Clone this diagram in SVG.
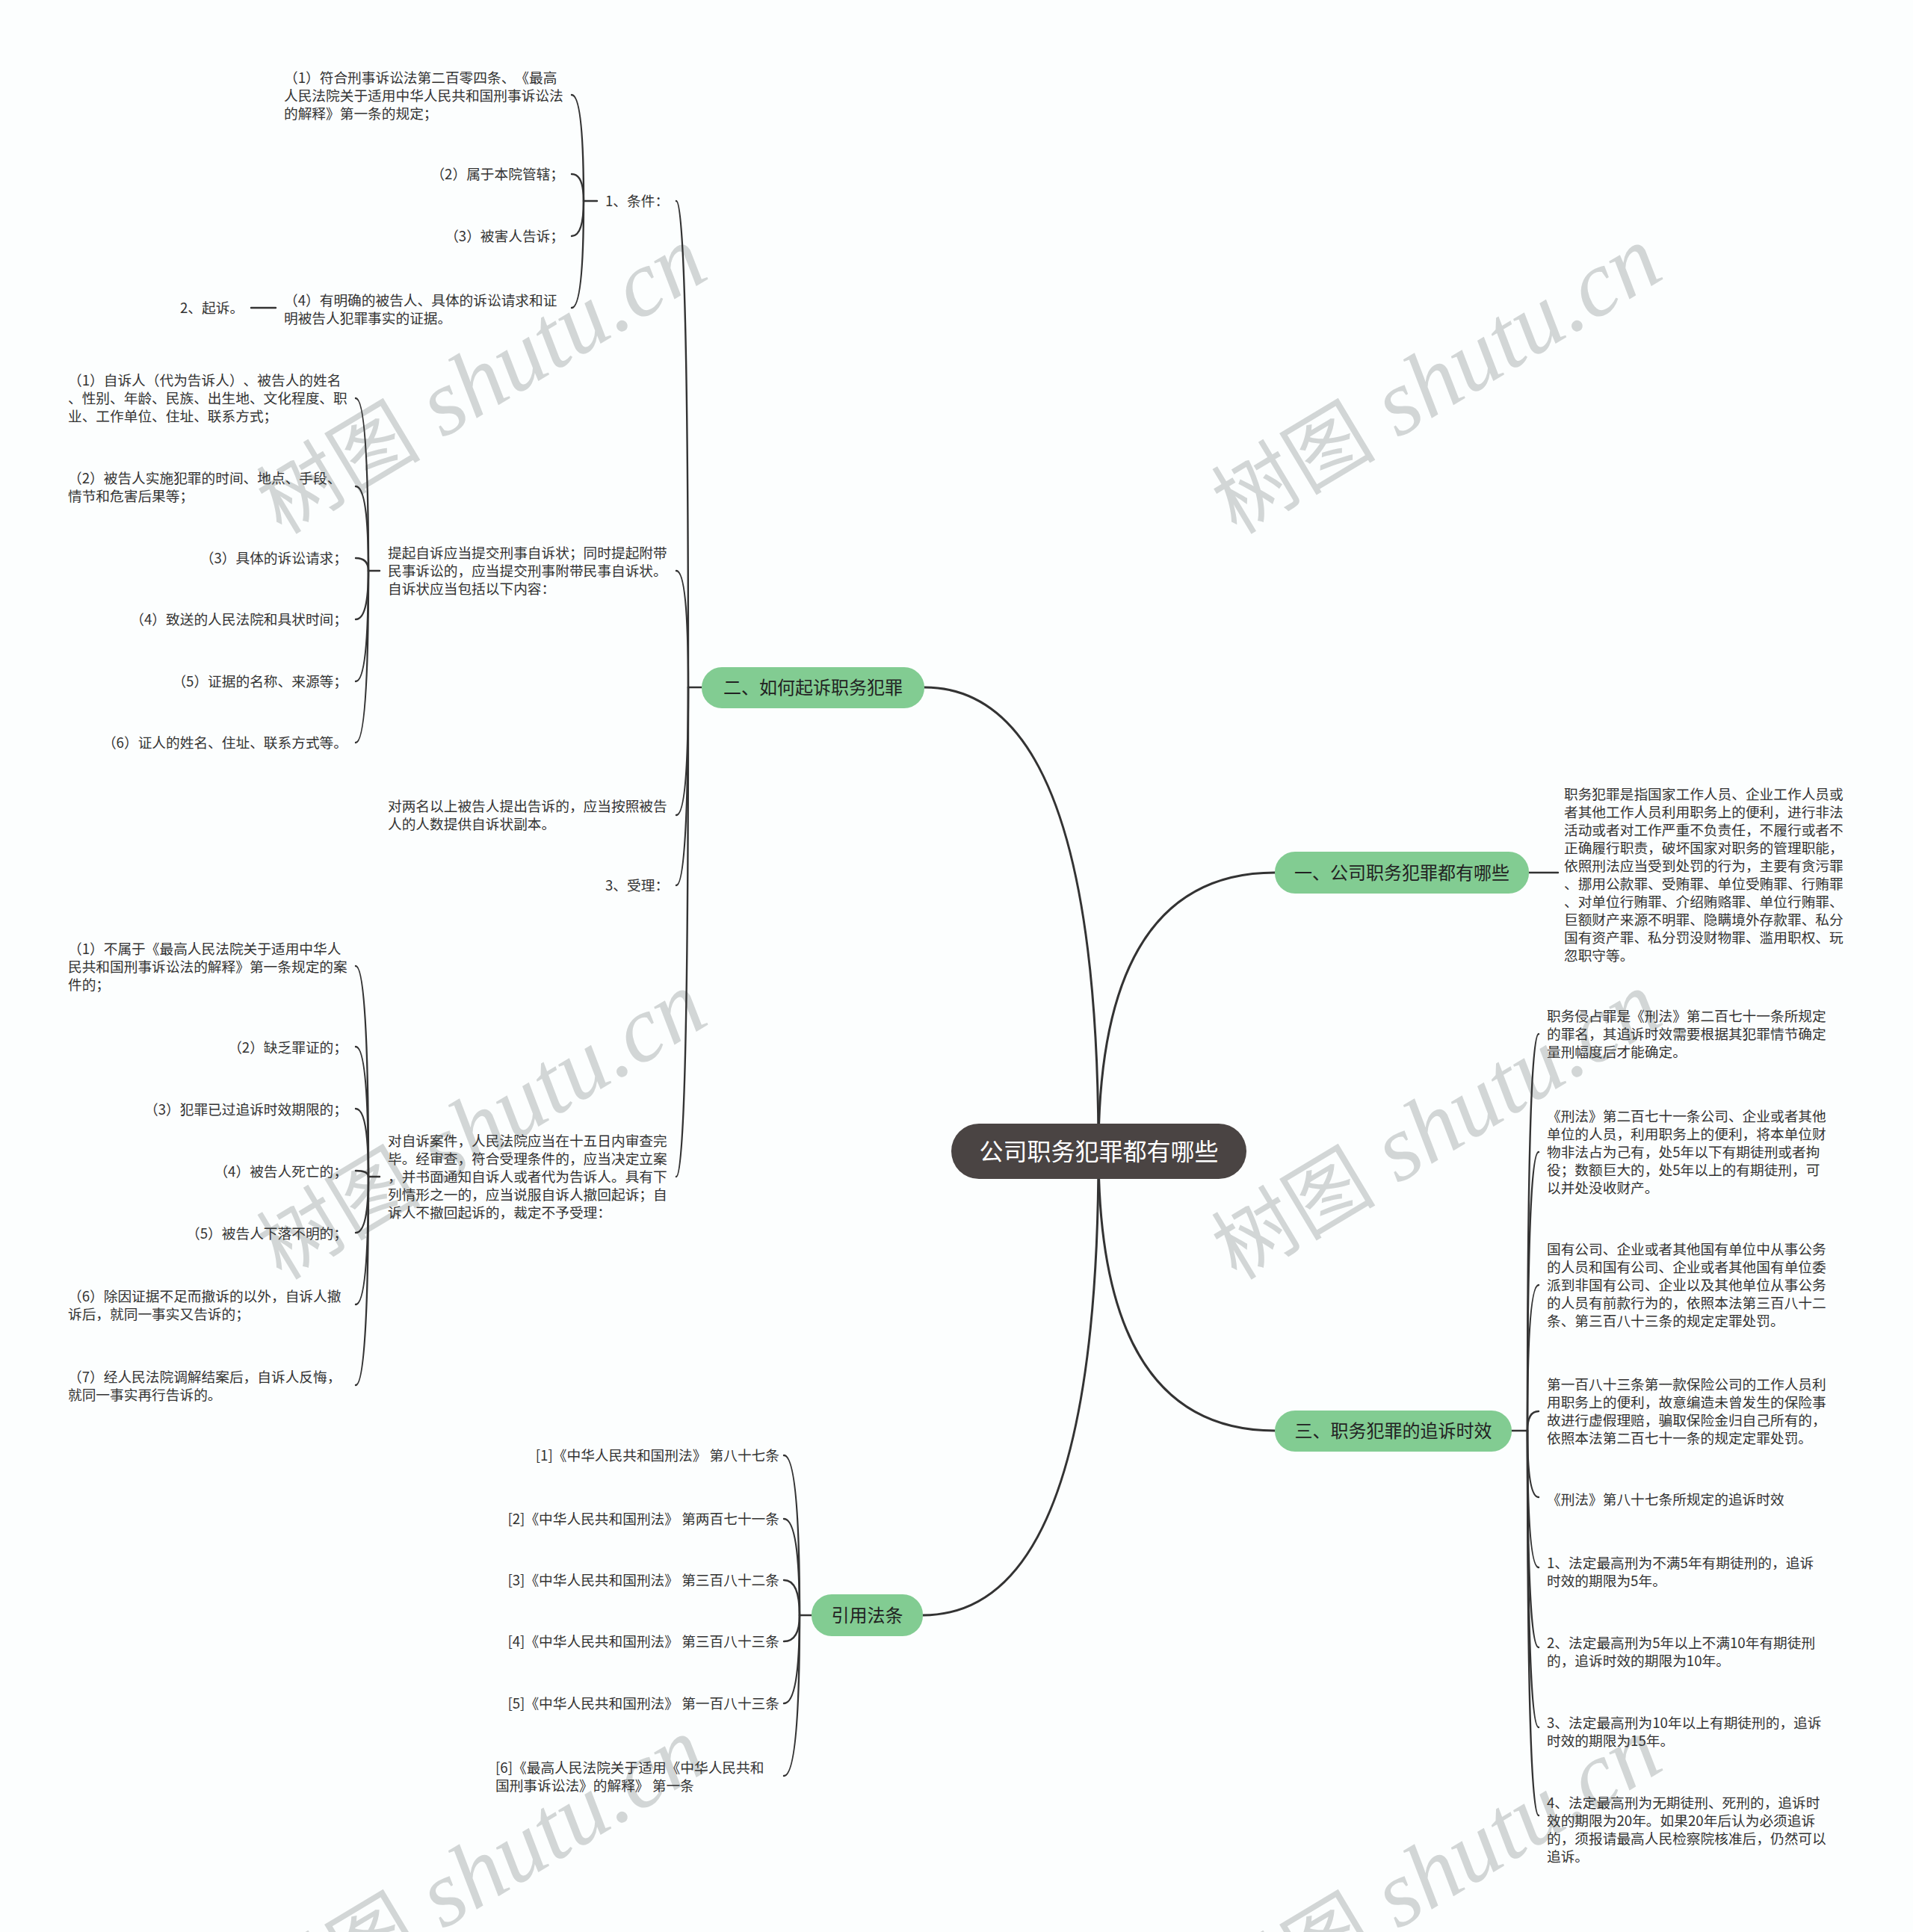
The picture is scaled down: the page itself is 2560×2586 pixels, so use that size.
<svg xmlns="http://www.w3.org/2000/svg" width="2560" height="2586" viewBox="0 0 2560 2586">
<defs>
<style>
.bg{fill:#fcfefe}
.wm{fill:#d2d6d6}
.wm1{font-family:"Noto Sans CJK SC",sans-serif;font-size:110px}
.wm2{font-family:"Liberation Serif",serif;font-style:italic;font-size:125px}
.t{font-family:"Noto Sans CJK SC","Liberation Sans",sans-serif;font-size:18.7px;fill:#333333;text-spacing-trim:space-all}
.e{text-anchor:end}
.node{fill:#82cc92}
.nt{font-family:"Noto Sans CJK SC","Liberation Sans",sans-serif;font-size:24px;fill:#222222;text-anchor:middle;text-spacing-trim:space-all}
.root{fill:#4a4443}
.rt{font-family:"Noto Sans CJK SC","Liberation Sans",sans-serif;font-size:32px;fill:#ffffff;text-anchor:middle}
.m{fill:none;stroke:#333333;stroke-width:3;stroke-linecap:round}
.b{fill:none;stroke:#333333;stroke-width:2.4;stroke-linecap:round}
</style>
</defs>
<rect class="bg" x="0" y="0" width="2560" height="2586"/>
<g id="watermarks" class="wm">
<text transform="translate(645,511) rotate(-31)" text-anchor="middle" y="38"><tspan class="wm1">树图</tspan><tspan class="wm2"> shutu.cn</tspan></text>
<text transform="translate(1923,511) rotate(-31)" text-anchor="middle" y="38"><tspan class="wm1">树图</tspan><tspan class="wm2"> shutu.cn</tspan></text>
<text transform="translate(645,1509) rotate(-31)" text-anchor="middle" y="38"><tspan class="wm1">树图</tspan><tspan class="wm2"> shutu.cn</tspan></text>
<text transform="translate(1923,1509) rotate(-31)" text-anchor="middle" y="38"><tspan class="wm1">树图</tspan><tspan class="wm2"> shutu.cn</tspan></text>
<text transform="translate(645,2507) rotate(-31)" text-anchor="middle" y="38"><tspan class="wm1">树图</tspan><tspan class="wm2"> shutu.cn</tspan></text>
<text transform="translate(1923,2507) rotate(-31)" text-anchor="middle" y="38"><tspan class="wm1">树图</tspan><tspan class="wm2"> shutu.cn</tspan></text>
</g>
<g id="connectors">
<path class="m" d="M1470 1541 Q1470 920 1237 920"/>
<path class="m" d="M1470 1541 Q1470 1168 1706 1168"/>
<path class="m" d="M1470 1541 Q1470 1915 1706 1915"/>
<path class="m" d="M1470 1541 Q1470 2162 1235 2162"/>
<path class="b" d="M939 920 L921 920"/>
<path class="b" d="M921 920 Q921 269 905 269"/>
<path class="b" d="M921 920 Q921 764 905 764"/>
<path class="b" d="M921 920 Q921 1091 905 1091"/>
<path class="b" d="M921 920 Q921 1185 905 1185"/>
<path class="b" d="M921 920 Q921 1575 905 1575"/>
<path class="b" d="M799 269 L781 269"/>
<path class="b" d="M781 269 Q781 127 765 127"/>
<path class="b" d="M781 269 Q781 233 765 233"/>
<path class="b" d="M781 269 Q781 316 765 316"/>
<path class="b" d="M781 269 Q781 412 765 412"/>
<path class="b" d="M369 412 L336 412"/>
<path class="b" d="M508 764 L493 764"/>
<path class="b" d="M493 764 Q493 533 476 533"/>
<path class="b" d="M493 764 Q493 651 476 651"/>
<path class="b" d="M493 764 Q493 747 476 747"/>
<path class="b" d="M493 764 Q493 829 476 829"/>
<path class="b" d="M493 764 Q493 912 476 912"/>
<path class="b" d="M493 764 Q493 994 476 994"/>
<path class="b" d="M508 1575 L493 1575"/>
<path class="b" d="M493 1575 Q493 1293 476 1293"/>
<path class="b" d="M493 1575 Q493 1401 476 1401"/>
<path class="b" d="M493 1575 Q493 1484 476 1484"/>
<path class="b" d="M493 1575 Q493 1567 476 1567"/>
<path class="b" d="M493 1575 Q493 1650 476 1650"/>
<path class="b" d="M493 1575 Q493 1746 476 1746"/>
<path class="b" d="M493 1575 Q493 1854 476 1854"/>
<path class="b" d="M1086 2162 L1070 2162"/>
<path class="b" d="M1070 2162 Q1070 1948 1049 1948"/>
<path class="b" d="M1070 2162 Q1070 2033 1049 2033"/>
<path class="b" d="M1070 2162 Q1070 2115 1049 2115"/>
<path class="b" d="M1070 2162 Q1070 2197 1049 2197"/>
<path class="b" d="M1070 2162 Q1070 2280 1049 2280"/>
<path class="b" d="M1070 2162 Q1070 2377 1049 2377"/>
<path class="b" d="M2046 1168 L2085 1168"/>
<path class="b" d="M2023 1915 L2044 1915"/>
<path class="b" d="M2044 1915 Q2044 1384 2059 1384"/>
<path class="b" d="M2044 1915 Q2044 1542 2059 1542"/>
<path class="b" d="M2044 1915 Q2044 1720 2059 1720"/>
<path class="b" d="M2044 1915 Q2044 1889 2059 1889"/>
<path class="b" d="M2044 1915 Q2044 2004 2059 2004"/>
<path class="b" d="M2044 1915 Q2044 2098 2059 2098"/>
<path class="b" d="M2044 1915 Q2044 2205 2059 2205"/>
<path class="b" d="M2044 1915 Q2044 2312 2059 2312"/>
<path class="b" d="M2044 1915 Q2044 2430 2059 2430"/>
</g>
<g id="root"><rect class="root" x="1273" y="1504" width="395" height="74" rx="37"/><text class="rt" x="1470.5" y="1553">公司职务犯罪都有哪些</text></g>
<g id="n2"><rect class="node" x="939" y="893" width="298" height="55" rx="27"/><text class="nt" x="1088" y="929">二、如何起诉职务犯罪</text></g>
<g id="n1"><rect class="node" x="1706" y="1140" width="340" height="56" rx="27"/><text class="nt" x="1876" y="1177">一、公司职务犯罪都有哪些</text></g>
<g id="n3"><rect class="node" x="1706" y="1888" width="317" height="55" rx="27"/><text class="nt" x="1864.5" y="1924">三、职务犯罪的追诉时效</text></g>
<g id="n4"><rect class="node" x="1086" y="2134" width="149" height="56" rx="27"/><text class="nt" x="1160.5" y="2171">引用法条</text></g>
<g id="n2-1"><text class="t" x="810" y="276">1、条件：</text></g>
<g id="n2-1-1"><text class="t" x="380" y="110.5"><tspan x="380">（1）符合刑事诉讼法第二百零四条、《最高</tspan><tspan x="380" dy="24">人民法院关于适用中华人民共和国刑事诉讼法</tspan><tspan x="380" dy="24">的解释》第一条的规定；</tspan></text></g>
<g id="n2-1-2"><text class="t e" x="755" y="240">（2）属于本院管辖；</text></g>
<g id="n2-1-3"><text class="t e" x="755" y="323">（3）被害人告诉；</text></g>
<g id="n2-1-4"><text class="t" x="380" y="409"><tspan x="380">（4）有明确的被告人、具体的诉讼请求和证</tspan><tspan x="380" dy="24">明被告人犯罪事实的证据。</tspan></text></g>
<g id="n2-1-4-1"><text class="t" x="241" y="419">2、起诉。</text></g>
<g id="n2-2"><text class="t" x="519" y="747"><tspan x="519">提起自诉应当提交刑事自诉状；同时提起附带</tspan><tspan x="519" dy="24">民事诉讼的，应当提交刑事附带民事自诉状。</tspan><tspan x="519" dy="24">自诉状应当包括以下内容：</tspan></text></g>
<g id="n2-2-1"><text class="t" x="91" y="516"><tspan x="91">（1）自诉人（代为告诉人）、被告人的姓名</tspan><tspan x="91" dy="24">、性别、年龄、民族、出生地、文化程度、职</tspan><tspan x="91" dy="24">业、工作单位、住址、联系方式；</tspan></text></g>
<g id="n2-2-2"><text class="t" x="91" y="647"><tspan x="91">（2）被告人实施犯罪的时间、地点、手段、</tspan><tspan x="91" dy="24">情节和危害后果等；</tspan></text></g>
<g id="n2-2-3"><text class="t e" x="465" y="754">（3）具体的诉讼请求；</text></g>
<g id="n2-2-4"><text class="t e" x="465" y="836">（4）致送的人民法院和具状时间；</text></g>
<g id="n2-2-5"><text class="t e" x="465" y="919">（5）证据的名称、来源等；</text></g>
<g id="n2-2-6"><text class="t e" x="465" y="1001">（6）证人的姓名、住址、联系方式等。</text></g>
<g id="n2-3"><text class="t" x="519" y="1086"><tspan x="519">对两名以上被告人提出告诉的，应当按照被告</tspan><tspan x="519" dy="24">人的人数提供自诉状副本。</tspan></text></g>
<g id="n2-4"><text class="t" x="810" y="1192">3、受理：</text></g>
<g id="n2-5"><text class="t" x="519" y="1534"><tspan x="519">对自诉案件，人民法院应当在十五日内审查完</tspan><tspan x="519" dy="24">毕。经审查，符合受理条件的，应当决定立案</tspan><tspan x="519" dy="24">，并书面通知自诉人或者代为告诉人。具有下</tspan><tspan x="519" dy="24">列情形之一的，应当说服自诉人撤回起诉；自</tspan><tspan x="519" dy="24">诉人不撤回起诉的，裁定不予受理：</tspan></text></g>
<g id="n2-5-1"><text class="t" x="91" y="1277"><tspan x="91">（1）不属于《最高人民法院关于适用中华人</tspan><tspan x="91" dy="24">民共和国刑事诉讼法的解释》第一条规定的案</tspan><tspan x="91" dy="24">件的；</tspan></text></g>
<g id="n2-5-2"><text class="t e" x="465" y="1409">（2）缺乏罪证的；</text></g>
<g id="n2-5-3"><text class="t e" x="465" y="1492">（3）犯罪已过追诉时效期限的；</text></g>
<g id="n2-5-4"><text class="t e" x="465" y="1575">（4）被告人死亡的；</text></g>
<g id="n2-5-5"><text class="t e" x="465" y="1658">（5）被告人下落不明的；</text></g>
<g id="n2-5-6"><text class="t" x="91" y="1742"><tspan x="91">（6）除因证据不足而撤诉的以外，自诉人撤</tspan><tspan x="91" dy="24">诉后，就同一事实又告诉的；</tspan></text></g>
<g id="n2-5-7"><text class="t" x="91" y="1850"><tspan x="91">（7）经人民法院调解结案后，自诉人反悔，</tspan><tspan x="91" dy="24">就同一事实再行告诉的。</tspan></text></g>
<g id="n1-1"><text class="t" x="2093" y="1070"><tspan x="2093">职务犯罪是指国家工作人员、企业工作人员或</tspan><tspan x="2093" dy="24">者其他工作人员利用职务上的便利，进行非法</tspan><tspan x="2093" dy="24">活动或者对工作严重不负责任，不履行或者不</tspan><tspan x="2093" dy="24">正确履行职责，破坏国家对职务的管理职能，</tspan><tspan x="2093" dy="24">依照刑法应当受到处罚的行为，主要有贪污罪</tspan><tspan x="2093" dy="24">、挪用公款罪、受贿罪、单位受贿罪、行贿罪</tspan><tspan x="2093" dy="24">、对单位行贿罪、介绍贿赂罪、单位行贿罪、</tspan><tspan x="2093" dy="24">巨额财产来源不明罪、隐瞒境外存款罪、私分</tspan><tspan x="2093" dy="24">国有资产罪、私分罚没财物罪、滥用职权、玩</tspan><tspan x="2093" dy="24">忽职守等。</tspan></text></g>
<g id="n3-1"><text class="t" x="2070" y="1367"><tspan x="2070">职务侵占罪是《刑法》第二百七十一条所规定</tspan><tspan x="2070" dy="24">的罪名，其追诉时效需要根据其犯罪情节确定</tspan><tspan x="2070" dy="24">量刑幅度后才能确定。</tspan></text></g>
<g id="n3-2"><text class="t" x="2070" y="1501"><tspan x="2070">《刑法》第二百七十一条公司、企业或者其他</tspan><tspan x="2070" dy="24">单位的人员，利用职务上的便利，将本单位财</tspan><tspan x="2070" dy="24">物非法占为己有，处5年以下有期徒刑或者拘</tspan><tspan x="2070" dy="24">役；数额巨大的，处5年以上的有期徒刑，可</tspan><tspan x="2070" dy="24">以并处没收财产。</tspan></text></g>
<g id="n3-3"><text class="t" x="2070" y="1679"><tspan x="2070">国有公司、企业或者其他国有单位中从事公务</tspan><tspan x="2070" dy="24">的人员和国有公司、企业或者其他国有单位委</tspan><tspan x="2070" dy="24">派到非国有公司、企业以及其他单位从事公务</tspan><tspan x="2070" dy="24">的人员有前款行为的，依照本法第三百八十二</tspan><tspan x="2070" dy="24">条、第三百八十三条的规定定罪处罚。</tspan></text></g>
<g id="n3-4"><text class="t" x="2070" y="1860"><tspan x="2070">第一百八十三条第一款保险公司的工作人员利</tspan><tspan x="2070" dy="24">用职务上的便利，故意编造未曾发生的保险事</tspan><tspan x="2070" dy="24">故进行虚假理赔，骗取保险金归自己所有的，</tspan><tspan x="2070" dy="24">依照本法第二百七十一条的规定定罪处罚。</tspan></text></g>
<g id="n3-5"><text class="t" x="2070" y="2014">《刑法》第八十七条所规定的追诉时效</text></g>
<g id="n3-6"><text class="t" x="2070" y="2099"><tspan x="2070">1、法定最高刑为不满5年有期徒刑的，追诉</tspan><tspan x="2070" dy="24">时效的期限为5年。</tspan></text></g>
<g id="n3-7"><text class="t" x="2070" y="2206"><tspan x="2070">2、法定最高刑为5年以上不满10年有期徒刑</tspan><tspan x="2070" dy="24">的，追诉时效的期限为10年。</tspan></text></g>
<g id="n3-8"><text class="t" x="2070" y="2313"><tspan x="2070">3、法定最高刑为10年以上有期徒刑的，追诉</tspan><tspan x="2070" dy="24">时效的期限为15年。</tspan></text></g>
<g id="n3-9"><text class="t" x="2070" y="2420"><tspan x="2070">4、法定最高刑为无期徒刑、死刑的，追诉时</tspan><tspan x="2070" dy="24">效的期限为20年。如果20年后认为必须追诉</tspan><tspan x="2070" dy="24">的，须报请最高人民检察院核准后，仍然可以</tspan><tspan x="2070" dy="24">追诉。</tspan></text></g>
<g id="n4-1"><text class="t e" x="1043" y="1955">[1]《中华人民共和国刑法》 第八十七条</text></g>
<g id="n4-2"><text class="t e" x="1043" y="2040">[2]《中华人民共和国刑法》 第两百七十一条</text></g>
<g id="n4-3"><text class="t e" x="1043" y="2122">[3]《中华人民共和国刑法》 第三百八十二条</text></g>
<g id="n4-4"><text class="t e" x="1043" y="2204">[4]《中华人民共和国刑法》 第三百八十三条</text></g>
<g id="n4-5"><text class="t e" x="1043" y="2287">[5]《中华人民共和国刑法》 第一百八十三条</text></g>
<g id="n4-6"><text class="t" x="663" y="2373"><tspan x="663">[6]《最高人民法院关于适用《中华人民共和</tspan><tspan x="663" dy="24">国刑事诉讼法》的解释》 第一条</tspan></text></g>
</svg>
